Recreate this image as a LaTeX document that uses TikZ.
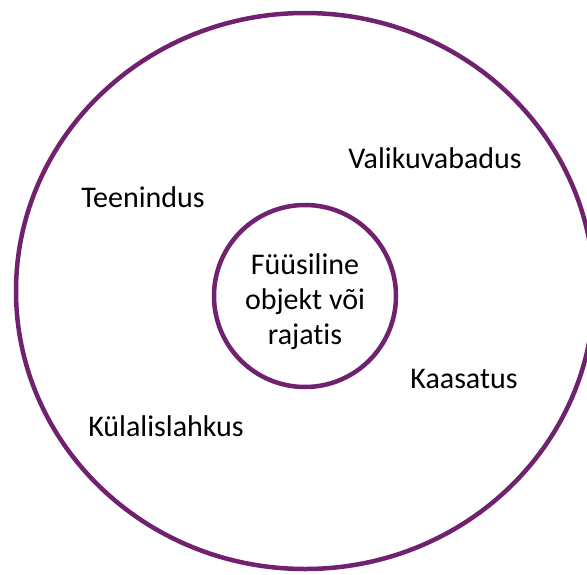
\documentclass[tikz,border=0pt]{standalone}
\usepackage{fontspec}
\setmainfont{Carlito}[Ligatures={NoCommon}]
\usepackage{tikz}
\definecolor{purple700}{HTML}{70226F}
\tikzstyle{ring}=[circle, draw=purple700, line width=4.5pt, minimum size=182pt, inner sep=0pt]
\tikzstyle{silt}=[font=\fontsize{30}{35}\selectfont, text=black, inner sep=0pt, align=center]

\begin{document}
\begin{tikzpicture}[x=1pt, y=-1pt]
			\useasboundingbox (0,0) rectangle (587,574);
			\clip (0,0) rectangle (587,574);
			\draw[draw=purple700, line width=4.5pt] (305,291) ellipse [x radius=289, y radius=278];
			\node[ring] (kern) at (305,296) {};
			\node[silt] (keskus) at (305,302) {Füüsiline\\objekt või\\rajatis};
			\node[silt] (valik) at (435,158) {Valikuvabadus};
			\node[silt] (teen) at (143,197) {Teenindus};
			\node[silt] (kaas) at (464,379) {Kaasatus};
			\node[silt] (kyla) at (166,426) {Külalislahkus};
		\end{tikzpicture}
\end{document}
